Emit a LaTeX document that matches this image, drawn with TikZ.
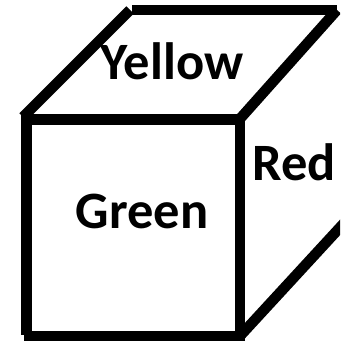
\documentclass[tikz,border=0pt]{standalone}
\usepackage{fontspec}
\setmainfont{Carlito}
\begin{document}
\begin{tikzpicture}[x=1pt,y=-1pt,
  edge/.style={line width=10.5pt,line cap=butt,black},
  lbl/.style={anchor=base,inner sep=0pt,font=\fontsize{52.5}{52.5}\selectfont\bfseries}]
\useasboundingbox (0,0) rectangle (340,344);
\clip (0,0) rectangle (340,344);
\coordinate (FTL) at (26.5,119.5);
\coordinate (FTR) at (240,119.5);
\coordinate (FBL) at (26.5,336);
\coordinate (FBR) at (240,336);
\coordinate (BTL) at (130,10);
\coordinate (BTR) at (337,10);
\coordinate (BBR) at (345,222);
\draw[edge] (21,119.5) -- (FTR);
\draw[edge] (FTL) -- (26.5,335);
\draw[edge] (24,336) -- (245,336);
\draw[edge] (FTR) -- (240,333);
\draw[edge] (132,10) -- (BTR);
\draw[edge] (23,117) -- (BTL);
\draw[edge] (BTR) -- (238,121);
\draw[edge] (FBR) -- (BBR);
\node[lbl] (yellow) at (172,80) {Yellow};
\node[lbl] (green) at (142,228) {Green};
\node[lbl] (red) at (294,180) {Red};
\end{tikzpicture}
\end{document}
